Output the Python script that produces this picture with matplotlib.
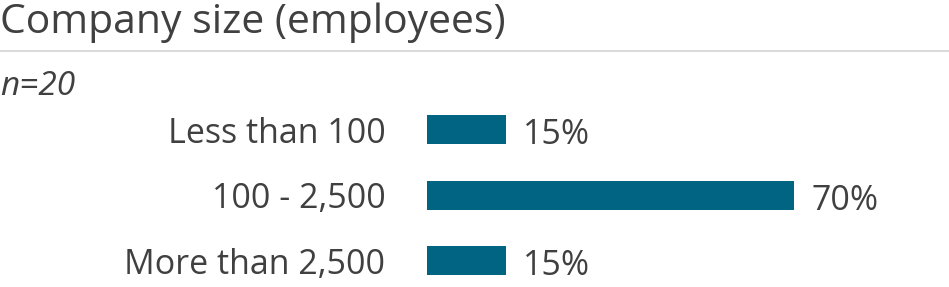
import matplotlib
matplotlib.use("Agg")
import matplotlib.pyplot as plt
from matplotlib.lines import Line2D

plt.rcParams["font.family"] = ["Open Sans", "DejaVu Sans"]

TITLE = "Company size (employees)"
NOTE = "n=20"
categories = ["Less than 100", "100 - 2,500", "More than 2,500"]
shares = [15, 70, 15]

BAR = "#006482"
TEXT = "#404040"

W, H = 949, 287
fig = plt.figure(figsize=(W / 100, H / 100), dpi=100)

# bar axes: left edge at x=427px, 5.24 px per percent
left_px = 427
ax = fig.add_axes([left_px / W, 0, 1 - left_px / W, 190 / H])
ax.set_xlim(0, (W - left_px) / 5.24)
ax.set_ylim(2.4, -0.5)

y = range(len(categories))
ax.barh(y, shares, height=0.44, color=BAR)
for i, v in zip(y, shares):
    ax.annotate(f"{v}%", (v, i), xytext=(12.5, -4), textcoords="offset points",
                ha="left", va="center", fontsize=24.5, color=TEXT)

ax.set_yticks(list(y))
ax.set_yticklabels(categories, fontsize=24.5, color=TEXT)
ax.tick_params(axis="y", length=0, pad=30)
ax.set_xticks([])
for s in ax.spines.values():
    s.set_visible(False)

fig.text(0, 1 - 33 / H, TITLE, fontsize=29.4, color=TEXT, va="baseline", ha="left")
fig.add_artist(Line2D([0, 1], [1 - 51 / H] * 2, transform=fig.transFigure,
                      color="#dadada", lw=1.5))
fig.text(0, 1 - 95 / H, NOTE, fontsize=24, color=TEXT, style="italic",
         va="baseline", ha="left")

fig.savefig("out.png", dpi=100)
